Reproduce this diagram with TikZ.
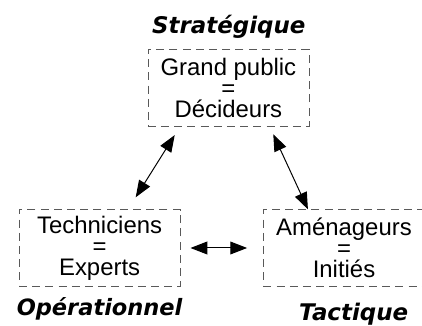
\documentclass[tikz,border=0pt]{standalone}
\usepackage{fontspec}
\setmainfont{Liberation Sans}
\newfontfamily\titlefont[BoldFeatures={FakeBold=1.6}]{DejaVu Sans}
\usetikzlibrary{
    arrows.meta,
    positioning,
    calc,
}

\begin{document}
\begin{tikzpicture}[
    level/.style={draw=black!65, dashed, dash pattern=on 0.2cm off 0.13cm, align=center, minimum width=4.03cm, minimum height=1.92cm, inner sep=0pt, font=\fontsize{17}{15}\selectfont},
    title/.style={font=\titlefont\bfseries\itshape\fontsize{16.3}{16}\selectfont},
    link/.style={line width=0.7pt, {Triangle[length=0.42cm,width=0.32cm]}-{Triangle[length=0.42cm,width=0.32cm]}},
    ]

\useasboundingbox (0,0) rectangle (10.55,8.15);

\node[level] at (5.71,5.96) (top)
    {Grand public\\=\\D\'ecideurs};

\node[level] at (2.49,1.95) (left)
    {Techniciens\\=\\Experts};

\node[level] at (8.6,1.95) (right)
    {Am\'enageurs\\=\\Initi\'es};

\node[title] at (5.72,7.48) (strat) {Strat\'egique};

\node[title, font=\titlefont\bfseries\itshape\fontsize{16}{16}\selectfont] at (2.49,0.43) (oper) {Op\'erationnel};

\node[title] at (8.84,0.3) (tact) {Tactique};

\draw[link] ([xshift=0.68cm,yshift=-0.22cm]top.south west) -- ([xshift=-1.12cm,yshift=0.3cm]left.north east);

\draw[link] ([xshift=-0.9cm,yshift=-0.2cm]top.south east) -- ([xshift=1.12cm]right.north west);

\draw[link] ([xshift=0.25cm]left.east) -- ([xshift=-0.4cm]right.west);

\end{tikzpicture}
\end{document}
